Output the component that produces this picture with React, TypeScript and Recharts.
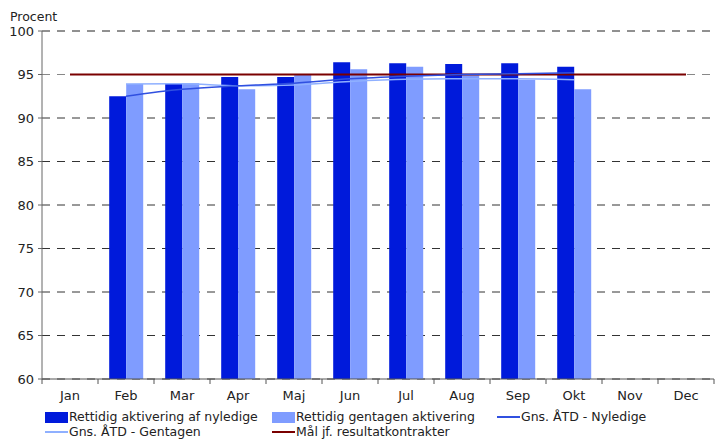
import React from 'react';
import { ComposedChart, Bar, Line, XAxis, YAxis, CartesianGrid, ReferenceLine } from 'recharts';

const months = ['Jan', 'Feb', 'Mar', 'Apr', 'Maj', 'Jun', 'Jul', 'Aug', 'Sep', 'Okt', 'Nov', 'Dec'];
const nyledige = [null, 92.5, 94.0, 94.7, 94.7, 96.4, 96.3, 96.2, 96.3, 95.9, null, null];
const gentagen = [null, 93.9, 94.0, 93.3, 95.0, 95.6, 95.9, 94.9, 94.4, 93.3, null, null];
const atdNyledige = [null, 92.5, 93.3, 93.7, 94.0, 94.5, 94.8, 95.0, 95.1, 95.2, null, null];
const atdGentagen = [null, 93.9, 93.95, 93.7, 93.8, 94.2, 94.45, 94.5, 94.5, 94.4, null, null];
const maal = [95, 95, 95, 95, 95, 95, 95, 95, 95, 95, 95, 95];
const yTicks = [60, 65, 70, 75, 80, 85, 90, 95, 100];
const lightGrid = [95, 100];

const FONT = '"DejaVu Sans", Verdana, sans-serif';
const DARK = '#001ADB';
const LIGHT = '#7F9CFF';
const LINE_DARK = '#3050E0';
const LINE_LIGHT = '#8FB0FF';
const RED = '#7A0000';

const chartData = months.map((m, i) => ({
  month: m,
  nyledige: nyledige[i],
  gentagen: gentagen[i],
  atdNyledige: atdNyledige[i],
  atdGentagen: atdGentagen[i],
  maal: maal[i],
}));

const BAND = (721 - 42 - 7) / months.length;

// category label at centre, tick mark on the right edge of each band
const MonthTick = (props: any) => {
  const { x, y, payload, index } = props;
  const half = BAND / 2;
  return (
    <g>
      {index === 0 && <line x1={x - half} x2={x - half} y1={y - 12} y2={y - 7} stroke="#555" />}
      <line x1={x + half} x2={x + half} y1={y - 12} y2={y - 7} stroke="#555" />
      <text x={x} y={y} dy="0.71em" textAnchor="middle" fontSize={13} fontFamily={FONT} fill="#222">
        {payload.value}
      </text>
    </g>
  );
};

const legendItems = [
  { label: 'Rettidig aktivering af nyledige', color: DARK, kind: 'box' },
  { label: 'Rettidig gentagen aktivering', color: LIGHT, kind: 'box' },
  { label: 'Gns. ÅTD - Nyledige', color: LINE_DARK, kind: 'line' },
  { label: 'Gns. ÅTD - Gentagen', color: LINE_LIGHT, kind: 'line' },
  { label: 'Mål jf. resultatkontrakter', color: RED, kind: 'line' },
];
const legendCols = [45, 272, 497];

export default function App() {
  return (
    <div style={{ position: 'absolute', left: 0, top: 0, width: 721, height: 439, overflow: 'hidden', background: '#fff' }}>
      <div style={{ position: 'absolute', left: 10, top: 9, fontFamily: FONT, fontSize: 12.5, color: '#222' }}>Procent</div>
      <ComposedChart
        width={721}
        height={439}
        data={chartData}
        margin={{ top: 31, right: 7, left: 8, bottom: 30 }}
        barCategoryGap="20%"
        barGap={0}
      >
        <CartesianGrid vertical={false} stroke="#333" strokeDasharray="8 7" />
        {lightGrid.map((v) => (
          <ReferenceLine key={v} y={v} stroke="#888" strokeDasharray="8 7" />
        ))}
        <XAxis
          dataKey="month"
          tick={<MonthTick />}
          tickLine={false}
          axisLine={{ stroke: '#555' }}
          height={30}
          tickSize={4}
          tickMargin={8}
          interval={0}
        />
        <YAxis
          domain={[60, 100]}
          ticks={yTicks}
          width={34}
          tickSize={4}
          tickMargin={4}
          axisLine={{ stroke: '#666' }}
          tickLine={{ stroke: '#666' }}
          tick={{ fontSize: 13, fontFamily: FONT, fill: '#222' }}
          allowDataOverflow
        />
        <Bar dataKey="nyledige" fill={DARK} isAnimationActive={false} />
        <Bar dataKey="gentagen" fill={LIGHT} isAnimationActive={false} />
        <Line dataKey="maal" stroke={RED} strokeWidth={2} dot={false} isAnimationActive={false} />
        <Line type="monotone" dataKey="atdGentagen" stroke={LINE_LIGHT} strokeWidth={1.5} dot={false} isAnimationActive={false} />
        <Line type="monotone" dataKey="atdNyledige" stroke={LINE_DARK} strokeWidth={1.5} dot={false} isAnimationActive={false} />
      </ComposedChart>
      {legendItems.map((item, i) => {
        const col = legendCols[i % 3];
        const top = i < 3 ? 410 : 424.5;
        return (
          <div
            key={item.label}
            style={{ position: 'absolute', left: col, top, height: 14, display: 'flex', alignItems: 'center', fontFamily: FONT, fontSize: 12.5, lineHeight: '14px', color: '#222', whiteSpace: 'nowrap' }}
          >
            {item.kind === 'box' ? (
              <span style={{ display: 'inline-block', width: 23, height: 11, background: item.color, marginRight: 1 }} />
            ) : (
              <span style={{ display: 'inline-block', width: 23, height: 2, background: item.color, marginRight: 1 }} />
            )}
            <span>{item.label}</span>
          </div>
        );
      })}
    </div>
  );
}
